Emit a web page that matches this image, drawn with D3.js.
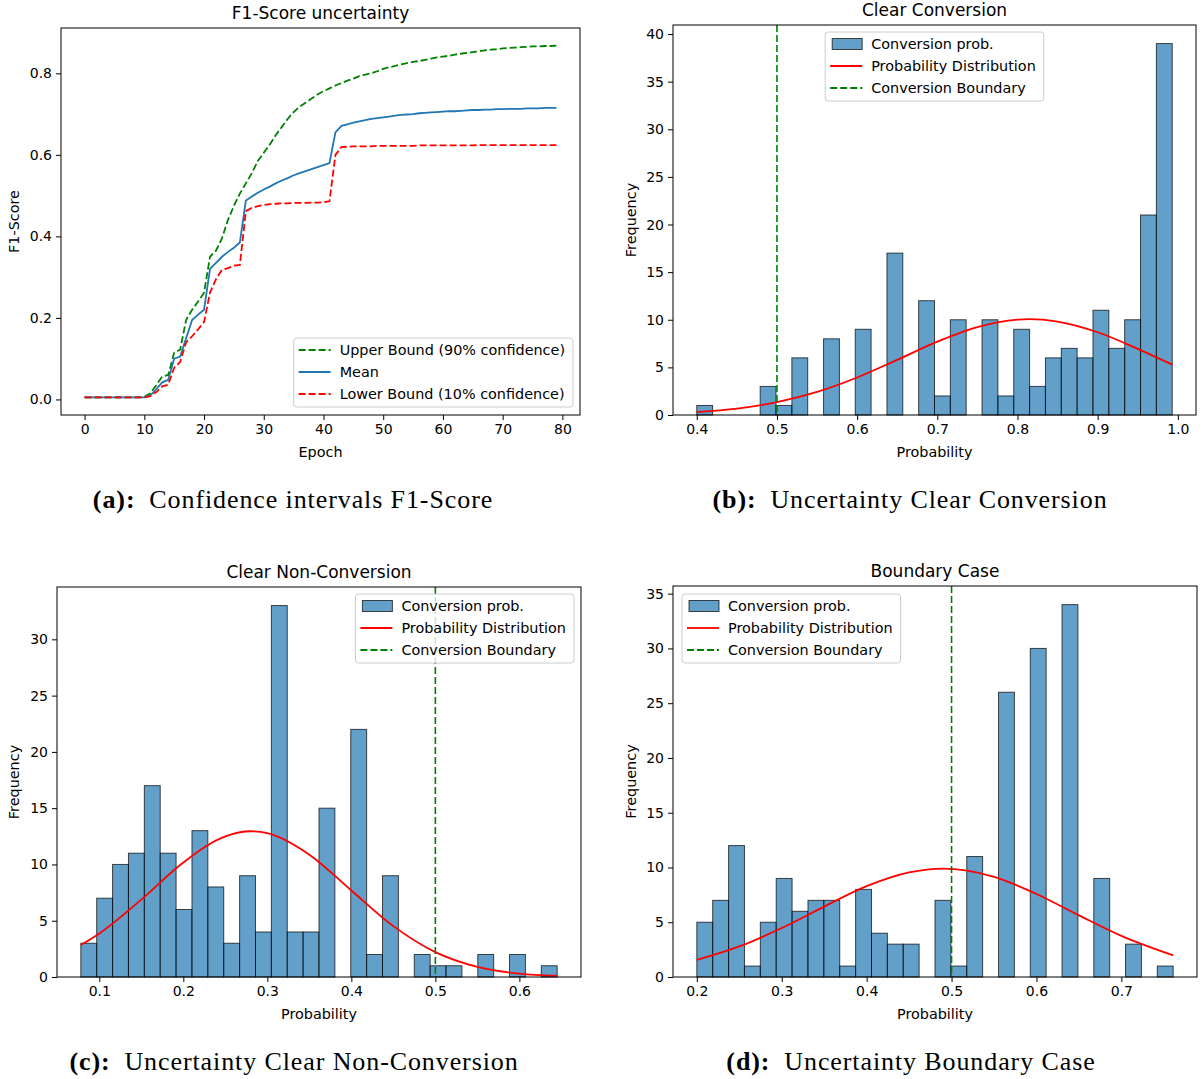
<!DOCTYPE html>
<html>
<head>
<meta charset="utf-8">
<script src="https://cdn.jsdelivr.net/npm/d3@7"></script>
<style>
  body { margin: 0; background: #fff; }
  svg { display: block; font-family: "DejaVu Sans", sans-serif; }
  .axis text { font-size: 14px; fill: #000; font-family: "DejaVu Sans", sans-serif; }
  .axis line { stroke: #000; stroke-width: 1; }
  .axis .domain { display: none; }
  .caption { font-family: "Liberation Serif", serif; font-size: 26px; letter-spacing: 0.9px; }
</style>
</head>
<body>
<script>
// ---------- data ----------
var epochs = d3.range(80);

var f1Upper = [0.005,0.005,0.005,0.005,0.005,0.005,0.005,0.005,0.005,0.005,
  0.006,0.015,0.035,0.056,0.06,0.115,0.122,0.195,0.22,0.24,
  0.262,0.35,0.365,0.395,0.44,0.475,0.505,0.53,0.555,0.585,
  0.605,0.625,0.648,0.668,0.688,0.705,0.718,0.728,0.738,0.748,
  0.756,0.763,0.77,0.776,0.782,0.787,0.793,0.797,0.8,0.805,
  0.811,0.815,0.818,0.822,0.825,0.828,0.83,0.833,0.836,0.839,
  0.841,0.843,0.846,0.848,0.85,0.852,0.854,0.856,0.858,0.859,
  0.861,0.862,0.863,0.864,0.865,0.866,0.866,0.867,0.867,0.868];

var f1Mean = [0.005,0.005,0.005,0.005,0.005,0.005,0.005,0.005,0.005,0.005,
  0.005,0.01,0.025,0.042,0.048,0.1,0.105,0.15,0.195,0.208,
  0.22,0.32,0.335,0.35,0.362,0.372,0.385,0.488,0.498,0.507,
  0.515,0.522,0.53,0.537,0.543,0.55,0.555,0.56,0.565,0.57,
  0.575,0.58,0.655,0.671,0.675,0.679,0.682,0.685,0.688,0.69,
  0.692,0.694,0.696,0.698,0.699,0.7,0.702,0.703,0.704,0.705,
  0.706,0.707,0.707,0.708,0.709,0.71,0.71,0.711,0.711,0.712,
  0.712,0.713,0.713,0.713,0.714,0.714,0.714,0.715,0.715,0.715];

var f1Lower = [0.005,0.005,0.005,0.005,0.005,0.005,0.005,0.005,0.005,0.005,
  0.005,0.008,0.018,0.032,0.036,0.078,0.092,0.14,0.155,0.172,
  0.19,0.262,0.295,0.318,0.322,0.328,0.33,0.462,0.47,0.474,
  0.477,0.479,0.48,0.481,0.481,0.482,0.482,0.482,0.483,0.483,
  0.484,0.486,0.6,0.619,0.62,0.621,0.621,0.621,0.621,0.622,
  0.622,0.622,0.622,0.622,0.622,0.622,0.623,0.623,0.623,0.623,
  0.623,0.623,0.623,0.623,0.623,0.623,0.624,0.624,0.624,0.624,
  0.624,0.624,0.624,0.624,0.624,0.624,0.624,0.624,0.624,0.624];

// histograms: 30 bins between range[0] and range[1]
var clearConvRange = [0.400, 0.993];
var clearConvCounts = [1,0,0,0,3,1,6,0,8,0,9,0,17,0,12,2,10,0,10,2,9,3,6,7,6,11,7,10,21,39];
var clearConvCurveX = [0.40,0.45,0.50,0.55,0.60,0.65,0.70,0.75,0.80,0.815,0.85,0.90,0.95,0.993];
var clearConvCurveY = [0.31,0.67,1.35,2.42,3.94,5.79,7.70,9.23,10.01,10.06,9.81,8.69,6.95,5.29];

var nonConvRange = [0.078, 0.645];
var nonConvCounts = [3,7,10,11,17,11,6,13,8,3,9,4,33,4,4,15,0,22,2,9,0,2,1,1,0,2,0,2,0,1];
var nonConvCurveX = [0.078,0.10,0.15,0.20,0.25,0.28,0.30,0.35,0.40,0.45,0.50,0.55,0.60,0.645];
var nonConvCurveY = [2.84,3.87,6.88,10.17,12.50,12.95,12.78,10.87,7.69,4.52,2.21,0.90,0.30,0.10];

var boundaryRange = [0.200, 0.761];
var boundaryCounts = [5,7,12,1,5,9,6,7,7,1,8,4,3,3,0,7,1,11,0,26,0,30,0,34,0,9,0,3,0,1];
var boundaryCurveX = [0.20,0.25,0.30,0.35,0.40,0.45,0.49,0.55,0.60,0.65,0.70,0.761];
var boundaryCurveY = [1.56,2.79,4.47,6.43,8.29,9.55,9.90,9.15,7.58,5.63,3.75,1.97];

var convBoundary = 0.5;

var f1XTicks = [0,10,20,30,40,50,60,70,80];
var f1YTicks = [0,0.2,0.4,0.6,0.8];

// ---------- drawing ----------
var svg = d3.select("body").append("svg").attr("width", 1203).attr("height", 1079);

var barBlue = "#1f77b4";

function padDomain(lo, hi) {
  var m = (hi - lo) * 0.05;
  return [lo - m, hi + m];
}

function drawFrame(p, x, y, xTicks, yTicks, xFmt, yFmt) {
  svg.append("g").attr("class", "axis")
    .attr("transform", "translate(0," + p.bottom + ")")
    .call(d3.axisBottom(x).tickValues(xTicks).tickFormat(xFmt).tickSize(5).tickPadding(4));
  svg.append("g").attr("class", "axis")
    .attr("transform", "translate(" + p.left + ",0)")
    .call(d3.axisLeft(y).tickValues(yTicks).tickFormat(yFmt).tickSize(5).tickPadding(4));

  svg.append("rect")
    .attr("x", p.left).attr("y", p.top)
    .attr("width", p.right - p.left).attr("height", p.bottom - p.top)
    .attr("fill", "none").attr("stroke", "#000").attr("stroke-width", 1);

  svg.append("text")
    .attr("x", (p.left + p.right) / 2).attr("y", p.top - 9)
    .attr("text-anchor", "middle").style("font-size", "17px")
    .text(p.title);
  svg.append("text")
    .attr("x", (p.left + p.right) / 2).attr("y", p.bottom + 42)
    .attr("text-anchor", "middle").style("font-size", "14.4px")
    .text(p.xLabel);
  svg.append("text")
    .attr("transform", "translate(" + p.yLabelX + "," + (p.top + p.bottom) / 2 + ") rotate(-90)")
    .attr("text-anchor", "middle").attr("dy", "0.35em").style("font-size", "14.4px")
    .text(p.yLabel);
}

function legend(p, items, loc) {
  var rowH = 22, textX = 46;
  var g = svg.append("g");
  var box = g.append("rect")
    .attr("rx", 3).attr("fill", "#fff").attr("fill-opacity", 0.8)
    .attr("stroke", "#cccccc").attr("stroke-width", 1);

  var rows = g.selectAll("g.row").data(items).enter().append("g")
    .attr("class", "row")
    .attr("transform", function(d, i) { return "translate(0," + (12 + i * rowH) + ")"; });

  rows.append("text")
    .attr("x", textX).attr("dy", "0.35em").style("font-size", "14.4px")
    .text(function(d) { return d.label; });

  rows.each(function(d) {
    var r = d3.select(this);
    if (d.type == "patch") {
      r.append("rect").attr("x", 7).attr("y", -5.5).attr("width", 30).attr("height", 11)
        .attr("fill", barBlue).attr("fill-opacity", 0.7)
        .attr("stroke", "#000").attr("stroke-opacity", 0.7);
    } else {
      r.append("line").attr("x1", 5).attr("x2", 37)
        .attr("stroke", d.color).attr("stroke-width", 1.8)
        .attr("stroke-dasharray", d.dash ? "7,3" : null);
    }
  });

  var maxW = 0;
  rows.selectAll("text").each(function() { maxW = Math.max(maxW, this.getComputedTextLength()); });
  var w = textX + maxW + 8, h = 12 + (items.length - 1) * rowH + 13;
  box.attr("width", w).attr("height", h);

  var bx, by;
  if (loc == "lower right") { bx = p.right - 7 - w; by = p.bottom - 8 - h; }
  else if (loc == "upper right") { bx = p.right - 7 - w; by = p.top + 7; }
  else if (loc == "upper left") { bx = p.left + 9; by = p.top + 8; }
  else { bx = (p.left + p.right) / 2 - w / 2; by = p.top + 7; }
  g.attr("transform", "translate(" + bx + "," + by + ")");
}

function caption(cx, y, tag, rest) {
  var t = svg.append("text").attr("class", "caption")
    .attr("x", cx).attr("y", y).attr("text-anchor", "middle");
  t.append("tspan").style("font-weight", "bold").text(tag);
  t.append("tspan").text("\u2002" + rest);
}

// ---- (a) F1-score ----
(function() {
  var p = {left: 61, right: 580, top: 28, bottom: 415,
    title: "F1-Score uncertainty", xLabel: "Epoch", yLabel: "F1-Score", yLabelX: 14};
  var x = d3.scaleLinear().domain(padDomain(0, 79)).range([p.left, p.right]);
  var y = d3.scaleLinear().domain(padDomain(d3.min(f1Mean), d3.max(f1Upper))).range([p.bottom, p.top]);

  var series = [
    {vals: f1Upper, color: "#008000", dash: true, label: "Upper Bound (90% confidence)"},
    {vals: f1Mean, color: "#1f77b4", dash: false, label: "Mean"},
    {vals: f1Lower, color: "#ff0000", dash: true, label: "Lower Bound (10% confidence)"}
  ];
  var line = d3.line().x(function(d) { return x(d[0]); }).y(function(d) { return y(d[1]); });

  svg.selectAll("path.f1").data(series).enter().append("path")
    .attr("class", "f1")
    .attr("d", function(s) { return line(epochs.map(function(e, i) { return [e, s.vals[i]]; })); })
    .attr("fill", "none")
    .attr("stroke", function(s) { return s.color; })
    .attr("stroke-width", 1.8)
    .attr("stroke-dasharray", function(s) { return s.dash ? "7,3" : null; });

  drawFrame(p, x, y, f1XTicks, f1YTicks, d3.format("d"), d3.format(".1f"));
  legend(p, series.map(function(s) { return {label: s.label, color: s.color, dash: s.dash}; }), "lower right");
})();

// ---- histogram panels ----
function histPanel(p, range, counts, curveX, curveY, xTicks, yTicks, loc) {
  var step = (range[1] - range[0]) / counts.length;
  var bins = counts.map(function(c, i) { return {x0: range[0] + i * step, x1: range[0] + (i + 1) * step, n: c}; });

  var x = d3.scaleLinear().domain(padDomain(range[0], range[1])).range([p.left, p.right]);
  var y = d3.scaleLinear().domain([0, d3.max(counts) * 1.05]).range([p.bottom, p.top]);

  svg.append("g").selectAll("rect").data(bins.filter(function(b) { return b.n > 0; }))
    .enter().append("rect")
    .attr("x", function(b) { return x(b.x0); })
    .attr("width", function(b) { return x(b.x1) - x(b.x0); })
    .attr("y", function(b) { return y(b.n); })
    .attr("height", function(b) { return y(0) - y(b.n); })
    .attr("fill", barBlue).attr("fill-opacity", 0.7)
    .attr("stroke", "#000").attr("stroke-opacity", 0.7).attr("stroke-width", 1);

  var line = d3.line().curve(d3.curveMonotoneX)
    .x(function(d) { return x(d[0]); }).y(function(d) { return y(d[1]); });
  svg.append("path")
    .attr("d", line(curveX.map(function(v, i) { return [v, curveY[i]]; })))
    .attr("fill", "none").attr("stroke", "#ff0000").attr("stroke-width", 1.8);

  svg.append("line")
    .attr("x1", x(convBoundary)).attr("x2", x(convBoundary))
    .attr("y1", p.top).attr("y2", p.bottom)
    .attr("stroke", "#008000").attr("stroke-width", 1.6).attr("stroke-dasharray", "7,3");

  drawFrame(p, x, y, xTicks, yTicks, d3.format(".1f"), d3.format("d"));
  legend(p, [
    {label: "Conversion prob.", type: "patch"},
    {label: "Probability Distribution", color: "#ff0000", dash: false},
    {label: "Conversion Boundary", color: "#008000", dash: true}
  ], loc);
}

histPanel({left: 673, right: 1196, top: 25, bottom: 415,
    title: "Clear Conversion", xLabel: "Probability", yLabel: "Frequency", yLabelX: 631},
  clearConvRange, clearConvCounts, clearConvCurveX, clearConvCurveY,
  [0.4,0.5,0.6,0.7,0.8,0.9,1.0], [0,5,10,15,20,25,30,35,40], "upper center");

histPanel({left: 57, right: 581, top: 587, bottom: 977,
    title: "Clear Non-Conversion", xLabel: "Probability", yLabel: "Frequency", yLabelX: 14},
  nonConvRange, nonConvCounts, nonConvCurveX, nonConvCurveY,
  [0.1,0.2,0.3,0.4,0.5,0.6], [0,5,10,15,20,25,30], "upper right");

histPanel({left: 673, right: 1197, top: 586, bottom: 977,
    title: "Boundary Case", xLabel: "Probability", yLabel: "Frequency", yLabelX: 631},
  boundaryRange, boundaryCounts, boundaryCurveX, boundaryCurveY,
  [0.2,0.3,0.4,0.5,0.6,0.7], [0,5,10,15,20,25,30,35], "upper left");

// ---- captions ----
caption(293, 508, "(a):", "Confidence intervals F1-Score");
caption(910, 508, "(b):", "Uncertainty Clear Conversion");
caption(294, 1070, "(c):", "Uncertainty Clear Non-Conversion");
caption(911, 1070, "(d):", "Uncertainty Boundary Case");
</script>
</body>
</html>
